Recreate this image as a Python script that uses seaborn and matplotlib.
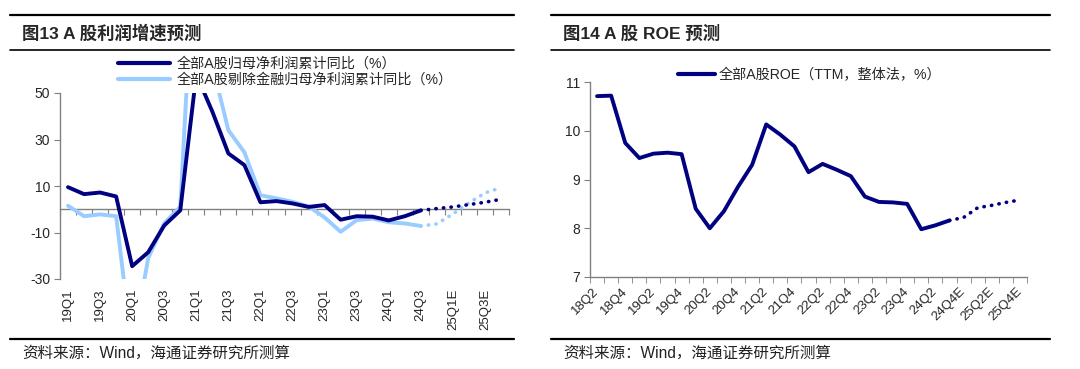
import numpy as np
import pandas as pd
import matplotlib
matplotlib.use('Agg')
import matplotlib.pyplot as plt
from matplotlib.lines import Line2D
import seaborn as sns

# 数据：图13 A股利润增速（%）
q_left = ['19Q1', '19Q2', '19Q3', '19Q4', '20Q1', '20Q2', '20Q3', '20Q4',
          '21Q1', '21Q2', '21Q3', '21Q4', '22Q1', '22Q2', '22Q3', '22Q4',
          '23Q1', '23Q2', '23Q3', '23Q4', '24Q1', '24Q2', '24Q3',
          '24Q4E', '25Q1E', '25Q2E', '25Q3E', '25Q4E']
lucro_total = [9.5, 6.5, 7.2, 5.5, -24.5, -18.5, -7.0, -0.5,
               58.0, 42.0, 24.0, 19.0, 3.0, 3.5, 2.5, 1.0,
               1.8, -4.5, -3.0, -3.2, -4.8, -3.0, -0.5]
lucro_total_prev = [0.3, 1.0, 2.0, 3.0, 4.3]
lucro_exfin = [1.5, -3.0, -2.2, -3.0, -60.0, -21.0, -6.0, 1.0,
               130.0, 62.0, 34.0, 24.5, 6.0, 4.7, 3.2, 1.2,
               -3.5, -9.7, -4.7, -4.0, -5.6, -6.1, -7.2]
lucro_exfin_prev = [-6.3, -2.0, 2.7, 7.0, 9.3]

# 数据：图14 A股ROE（%）
q_right = ['18Q2', '18Q3', '18Q4', '19Q1', '19Q2', '19Q3', '19Q4',
           '20Q1', '20Q2', '20Q3', '20Q4', '21Q1', '21Q2', '21Q3', '21Q4',
           '22Q1', '22Q2', '22Q3', '22Q4', '23Q1', '23Q2', '23Q3', '23Q4',
           '24Q1', '24Q2', '24Q3', '24Q4E', '25Q1E', '25Q2E', '25Q3E', '25Q4E']
roe = [10.71, 10.72, 9.75, 9.44, 9.53, 9.55, 9.52,
       8.40, 8.00, 8.35, 8.85, 9.30, 10.13, 9.92, 9.68,
       9.15, 9.32, 9.20, 9.07, 8.65, 8.54, 8.53, 8.50,
       7.98, 8.06, 8.16]
roe_prev = [8.22, 8.42, 8.47, 8.53, 8.58]

escuro = '#000080'
claro = '#99CCFF'
cinza = '#808080'
pontilhado = (0, (0.1, 2.0))

sns.set_style('white')
plt.rcParams['font.family'] = ['Liberation Sans', 'Noto Sans CJK SC', 'DejaVu Sans']
plt.rcParams['axes.unicode_minus'] = False


def serie(valores, inicio=0):
    return pd.DataFrame({'x': np.arange(inicio, inicio + len(valores)), 'v': valores})


def previsao(real, prev):
    return serie([real[-1]] + prev, len(real) - 1)


fig = plt.figure(figsize=(10.8, 3.69), dpi=100)

# molduras e títulos
for x0, x1, titulo in [(10, 514, '图13 A 股利润增速预测'), (551, 1050, '图14 A 股 ROE 预测')]:
    for y, lw in [(15, 1.6), (49.5, 1.2), (338.5, 1.6)]:
        fig.add_artist(Line2D([x0 / 1080, x1 / 1080], [1 - y / 369] * 2, color='black', lw=lw))
    fig.text((x0 + 12) / 1080, 1 - 33 / 369, titulo, fontsize=12.5, fontweight='bold',
             va='center', ha='left')
    fig.text((x0 + 12) / 1080, 1 - 353 / 369, '资料来源：Wind，海通证券研究所测算',
             fontsize=11.2, va='center', ha='left', color='#222222')

# ---- grafico esquerdo ----
ax1 = fig.add_axes([60 / 1080, 1 - 279 / 369, 449 / 1080, 186 / 369])
sns.lineplot(data=serie(lucro_exfin), x='x', y='v', ax=ax1, color=claro, lw=2.8,
             solid_joinstyle='round', solid_capstyle='round')
sns.lineplot(data=serie(lucro_total), x='x', y='v', ax=ax1, color=escuro, lw=2.8,
             solid_joinstyle='round', solid_capstyle='round')
sns.lineplot(data=previsao(lucro_exfin, lucro_exfin_prev), x='x', y='v', ax=ax1, color=claro,
             lw=2.6, linestyle=pontilhado, dash_capstyle='round')
sns.lineplot(data=previsao(lucro_total, lucro_total_prev), x='x', y='v', ax=ax1, color=escuro,
             lw=2.6, linestyle=pontilhado, dash_capstyle='round')
ax1.set_xlim(-0.5, len(q_left) - 0.5)
ax1.set_ylim(-30, 50)
ax1.set_yticks([-30, -10, 10, 30, 50])
ax1.set_xticks(range(0, len(q_left), 2))
ax1.set_xticklabels(q_left[::2], rotation=90)
ax1.tick_params(axis='x', length=0, pad=7, labelsize=9.5)
ax1.tick_params(axis='y', length=4, color=cinza, direction='out', labelsize=10, pad=3, left=True)
ax1.set_xlabel('')
ax1.set_ylabel('')
for lado in ['top', 'right', 'bottom']:
    ax1.spines[lado].set_visible(False)
ax1.spines['left'].set_color(cinza)
ax1.spines['left'].set_linewidth(1)
eixo0 = ax1.secondary_xaxis(30 / 80)
eixo0.set_xticks(np.arange(-0.5, len(q_left), 1))
eixo0.set_xticklabels([])
eixo0.tick_params(length=4, color=cinza, direction='out')
eixo0.spines['bottom'].set_color(cinza)
eixo0.spines['bottom'].set_linewidth(1)

h1 = [Line2D([], [], color=escuro, lw=3), Line2D([], [], color=claro, lw=3)]
fig.legend(h1, ['全部A股归母净利润累计同比（%）', '全部A股剔除金融归母净利润累计同比（%）'],
           loc='upper left', bbox_to_anchor=(118 / 1080, 1 - 57 / 369), frameon=False,
           fontsize=10.2, handlelength=3.7, handletextpad=0.45, labelspacing=0.15,
           borderpad=0, borderaxespad=0)

# ---- grafico direito ----
ax2 = fig.add_axes([590 / 1080, 1 - 277 / 369, 437 / 1080, 195 / 369])
sns.lineplot(data=serie(roe), x='x', y='v', ax=ax2, color=escuro, lw=2.8,
             solid_joinstyle='round', solid_capstyle='round')
sns.lineplot(data=previsao(roe, roe_prev), x='x', y='v', ax=ax2, color=escuro,
             lw=2.6, linestyle=pontilhado, dash_capstyle='round')
ax2.set_xlim(-0.5, len(q_right) - 0.5)
ax2.set_ylim(7, 11)
ax2.set_yticks([7, 8, 9, 10, 11])
ax2.set_xticks(range(0, len(q_right), 2))
ax2.set_xticklabels(q_right[::2], rotation=45, ha='right', va='center', rotation_mode='anchor')
ax2.set_xticks(np.arange(-0.5, len(q_right), 1), minor=True)
ax2.tick_params(axis='x', which='major', length=0, pad=9, labelsize=9.5)
ax2.tick_params(axis='x', which='minor', length=4, color=cinza, direction='out', bottom=True)
ax2.tick_params(axis='y', length=4, color=cinza, direction='out', labelsize=10, pad=3, left=True)
ax2.set_xlabel('')
ax2.set_ylabel('')
for lado in ['top', 'right']:
    ax2.spines[lado].set_visible(False)
for lado in ['left', 'bottom']:
    ax2.spines[lado].set_color(cinza)
    ax2.spines[lado].set_linewidth(1)

h2 = [Line2D([], [], color=escuro, lw=3)]
fig.legend(h2, ['全部A股ROE（TTM，整体法，%）'],
           loc='upper left', bbox_to_anchor=(678 / 1080, 1 - 68 / 369), frameon=False,
           fontsize=10.2, handlelength=2.6, handletextpad=0.3,
           borderpad=0, borderaxespad=0)

fig.savefig('out.png', dpi=100)
